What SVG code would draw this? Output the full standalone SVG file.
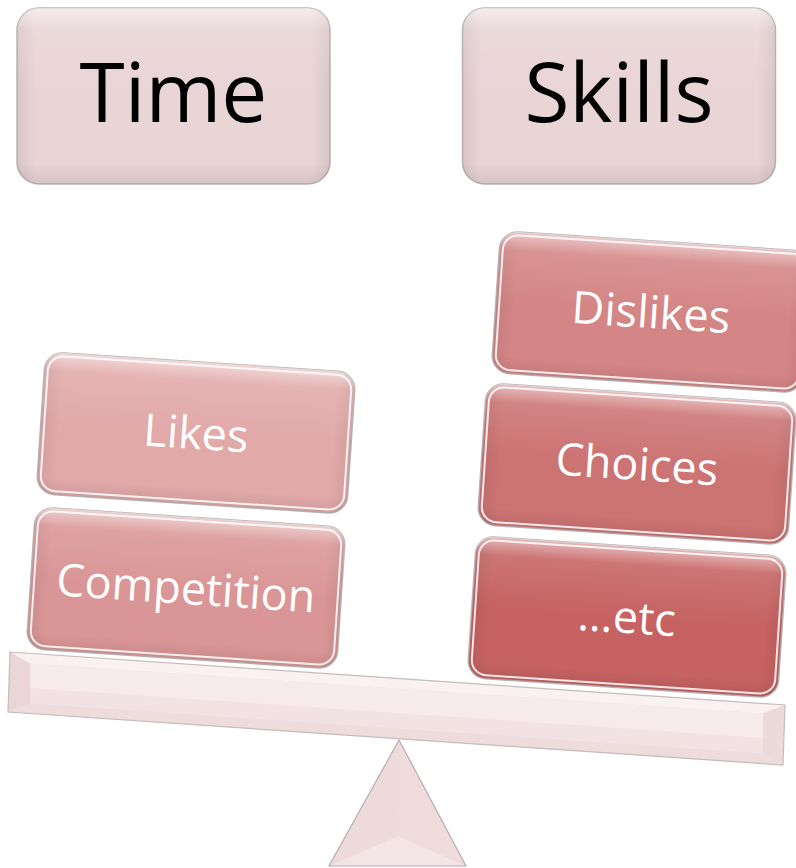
<svg xmlns="http://www.w3.org/2000/svg" xmlns:xlink="http://www.w3.org/1999/xlink" width="796" height="868" viewBox="0 0 796 868">
  <style>
    .edge { stroke: #bdb4b4; stroke-width: 1.5; }
    .glass { fill: none; stroke: #ffffff; stroke-width: 2; stroke-opacity: 0.85; }
    .shadeV { fill: url(#shadeV); }
    .shadeH { fill: url(#shadeH); }
    .label { font-family: "Open Sans", "Liberation Sans", sans-serif; font-size: 45px; fill: #ffffff; text-anchor: middle; }
    .title { font-family: "Open Sans", "Liberation Sans", sans-serif; font-size: 82px; fill: #000000; text-anchor: middle; }
  </style>
  <defs>
    <!-- bevel lighting: bright top lip, darker bottom lip -->
    <linearGradient id="shadeV" x1="0" y1="0" x2="0" y2="1">
      <stop offset="0" stop-color="#ffffff" stop-opacity="0.55"/>
      <stop offset="0.13" stop-color="#ffffff" stop-opacity="0.12"/>
      <stop offset="0.5" stop-color="#ffffff" stop-opacity="0"/>
      <stop offset="0.88" stop-color="#000000" stop-opacity="0"/>
      <stop offset="1" stop-color="#000000" stop-opacity="0.08"/>
    </linearGradient>
    <!-- bevel lighting: darker side lips -->
    <linearGradient id="shadeH" x1="0" y1="0" x2="1" y2="0">
      <stop offset="0" stop-color="#000000" stop-opacity="0.07"/>
      <stop offset="0.06" stop-color="#000000" stop-opacity="0"/>
      <stop offset="0.94" stop-color="#000000" stop-opacity="0"/>
      <stop offset="1" stop-color="#000000" stop-opacity="0.07"/>
    </linearGradient>
    <rect id="card" x="-155.5" y="-71" width="311" height="142" rx="18"/>
    <rect id="head" x="-156.5" y="-88" width="313" height="176" rx="22"/>
  </defs>

  <!-- balance: fulcrum and beam -->
  <g id="balance">
    <g id="fulcrum">
      <polygon points="399,740 329,866 466,866" fill="#efdadc" stroke="#b8aeae" stroke-width="1.2"/>
      <polygon points="331,865 464,865 398,836" fill="#f3e4e5"/>
      <polygon points="399,744 398,836 333,864" fill="#eddadb" fill-opacity="0.6"/>
    </g>
    <g id="beam">
      <polygon points="10,652 785,705 783,765 8,712" fill="#f2e2e3"/>
      <polygon points="10,652 785,705 763,713.5 30,663.4" fill="#faf1f1"/>
      <polygon points="8,712 783,765 763,753.6 30,703.5" fill="#eedbdc"/>
      <polygon points="10,652 30,663.4 30,703.5 8,712" fill="#ead6d8"/>
      <polygon points="785,705 783,765 763,753.6 763,713.5" fill="#ecd9da"/>
      <polygon points="30,663.4 763,713.5 763,738 30,688" fill="#f6eaea"/>
      <polygon points="10,652 785,705 783,765 8,712" fill="none" stroke="#c6bcbc" stroke-width="1.2"/>
    </g>
  </g>

  <!-- heading cards -->
  <g id="time" transform="translate(173.5 96)">
    <use xlink:href="#head" class="edge" fill="#e9d4d6"/>
    <use xlink:href="#head" class="shadeH"/>
    <use xlink:href="#head" class="shadeV"/>
    <text class="title" y="26">Time</text>
  </g>
  <g id="skills" transform="translate(619 96)">
    <use xlink:href="#head" class="edge" fill="#e9d4d6"/>
    <use xlink:href="#head" class="shadeH"/>
    <use xlink:href="#head" class="shadeV"/>
    <text class="title" y="26">Skills</text>
  </g>

  <!-- left pan -->
  <g id="likes" transform="translate(196 433) rotate(3.8)">
    <use xlink:href="#card" class="edge" fill="#e2a9a9"/>
    <use xlink:href="#card" class="shadeH"/>
    <use xlink:href="#card" class="shadeV"/>
    <rect x="-152" y="-67.5" width="304" height="135" rx="15" class="glass"/>
    <text class="label" y="16">Likes</text>
  </g>
  <g id="competition" transform="translate(186 588) rotate(3.8)">
    <use xlink:href="#card" class="edge" fill="#da9696"/>
    <use xlink:href="#card" class="shadeH"/>
    <use xlink:href="#card" class="shadeV"/>
    <rect x="-152" y="-67.5" width="304" height="135" rx="15" class="glass"/>
    <text class="label" y="16">Competition</text>
  </g>

  <!-- right pan -->
  <g id="dislikes" transform="translate(651 312) rotate(3.8)">
    <use xlink:href="#card" class="edge" fill="#d48585"/>
    <use xlink:href="#card" class="shadeH"/>
    <use xlink:href="#card" class="shadeV"/>
    <rect x="-152" y="-67.5" width="304" height="135" rx="15" class="glass"/>
    <text class="label" y="16">Dislikes</text>
  </g>
  <g id="choices" transform="translate(637 464) rotate(3.8)">
    <use xlink:href="#card" class="edge" fill="#cc7373"/>
    <use xlink:href="#card" class="shadeH"/>
    <use xlink:href="#card" class="shadeV"/>
    <rect x="-152" y="-67.5" width="304" height="135" rx="15" class="glass"/>
    <text class="label" y="16">Choices</text>
  </g>
  <g id="etc" transform="translate(627 617) rotate(3.8)">
    <use xlink:href="#card" class="edge" fill="#c66262"/>
    <use xlink:href="#card" class="shadeH"/>
    <use xlink:href="#card" class="shadeV"/>
    <rect x="-152" y="-67.5" width="304" height="135" rx="15" class="glass"/>
    <text class="label" y="16">…etc</text>
  </g>

  <!-- no connectors in this figure -->
  <g id="connectors"/>
</svg>
